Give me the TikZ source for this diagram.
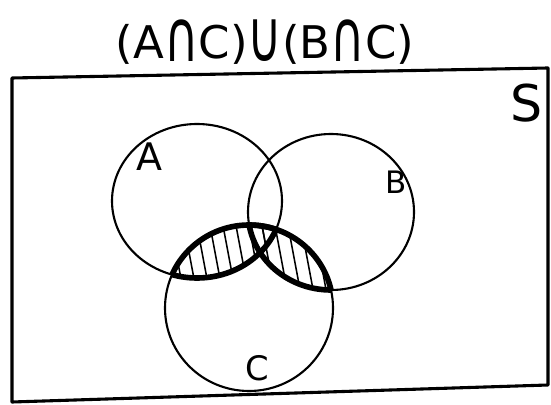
\documentclass[tikz,border=0pt]{standalone}
\usepackage{fontspec}
\setmainfont{DejaVu Sans}
\usepackage{graphicx}
\usepackage{tikz}
\usetikzlibrary{positioning}

\newcommand{\setA}{(197,201) ellipse [x radius=85, y radius=77]}
\newcommand{\setB}{(331,212) ellipse [x radius=83, y radius=78]}
\newcommand{\setC}{(249,308) ellipse [x radius=84, y radius=83]}
\newcommand{\tallop}[1]{\raisebox{-0.05em}{\scalebox{1.05}[1.6]{#1}}}

\begin{document}
\begin{tikzpicture}[
x=0.025cm,y=-0.025cm,
frame/.style={line width=2.2pt,line join=round},
setline/.style={line width=1.5pt},
hatch/.style={line width=1.1pt},
rim/.style={line width=4pt},
lbl/.style={inner sep=0pt}
]
\useasboundingbox (0,0) rectangle (551,405);

% universe S
\draw[frame] (12,78) -- (548,68) -- (548,385) -- (12,402) -- cycle;
\node[font=\fontsize{32}{34}\selectfont] (title) at (265,42)
  {(A\tallop{∩}C)\tallop{∪}(B\tallop{∩}C)};
\node[lbl,font=\fontsize{36}{38}\selectfont] (s) at (527,103) {S};

% the three sets
\draw[setline] \setA;
\draw[setline] \setB;
\draw[setline] \setC;
\node[lbl,font=\fontsize{27}{29}\selectfont] (a) at (149,157) {A};
\node[lbl,font=\fontsize{22}{24}\selectfont] (b) at (396,182) {B};
\node[lbl,font=\fontsize{24}{26}\selectfont] (c) at (257,368) {C};

% shaded part: (A u B) n C
\begin{scope}
\clip \setC;
\begin{scope}
\clip \setA;
\foreach \x in {130,143,...,350} \draw[hatch] (\x,215) -- ++(16,85);
\end{scope}
\begin{scope}
\clip \setB;
\foreach \x in {130,143,...,350} \draw[hatch] (\x,215) -- ++(16,85);
\end{scope}
\draw[rim] \setA;
\draw[rim] \setB;
\end{scope}
\begin{scope}
\clip \setA;
\draw[rim] \setC;
\end{scope}
\begin{scope}
\clip \setB;
\draw[rim] \setC;
\end{scope}
\end{tikzpicture}
\end{document}
